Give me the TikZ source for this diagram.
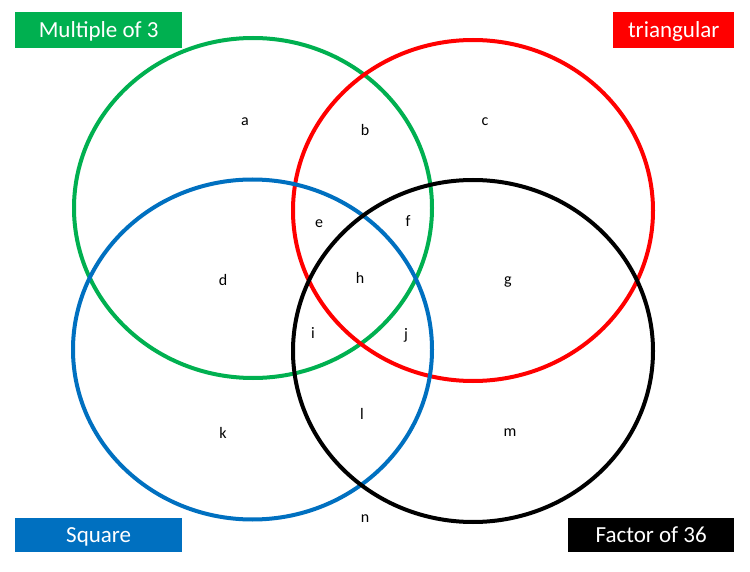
\documentclass[tikz,border=0pt]{standalone}
\usepackage{fontspec}
\setmainfont{Carlito}
\definecolor{vgreen}{RGB}{0,176,80}
\definecolor{vred}{RGB}{255,0,0}
\definecolor{vblue}{RGB}{0,112,192}
\begin{document}
\begin{tikzpicture}[x=1pt,y=-1pt,
  setring/.style={line width=4pt},
  tag/.style={anchor=north west,inner sep=0pt,text=white,font=\fontsize{23}{27}\selectfont,align=center,text height=17pt,text depth=3pt},
  rlabel/.style={font=\fontsize{16}{19}\selectfont,inner sep=0pt}]
\useasboundingbox[fill=white] (0,0) rectangle (750,572);
% circles
\draw[setring,vgreen] (253,208) ellipse [x radius=179, y radius=170];
\draw[setring,vred] (473,210.5) ellipse [x radius=180, y radius=170.5];
\draw[setring,vblue] (252.5,349.5) ellipse [x radius=179.5, y radius=170];
\draw[setring,black] (473,351) ellipse [x radius=180, y radius=171];
% set tags
\node[tag,fill=vgreen,minimum width=167pt,minimum height=36pt] (tm3) at (15,12) {Multiple of 3};
\node[tag,fill=vred,minimum width=121pt,minimum height=36pt] (ttri) at (613,12) {triangular};
\node[tag,fill=vblue,minimum width=167pt,minimum height=34pt] (tsq) at (15,518) {Square};
\node[tag,fill=black,minimum width=166pt,minimum height=34pt] (tf36) at (568,518) {Factor of 36};
% region labels
\node[rlabel] (ra) at (245,122) {a};
\node[rlabel] (rb) at (365,130) {b};
\node[rlabel] (rc) at (485,122) {c};
\node[rlabel] (rd) at (223,280) {d};
\node[rlabel] (re) at (319,224) {e};
\node[rlabel] (rf) at (408,221) {f};
\node[rlabel] (rg) at (508,282) {g};
\node[rlabel] (rh) at (360,278) {h};
\node[rlabel] (ri) at (313,333) {i};
\node[rlabel] (rj) at (406,335) {j};
\node[rlabel] (rk) at (223,433) {k};
\node[rlabel] (rl) at (362,414) {l};
\node[rlabel] (rm) at (510,433) {m};
\node[rlabel] (rn) at (365,519) {n};
\end{tikzpicture}
\end{document}
